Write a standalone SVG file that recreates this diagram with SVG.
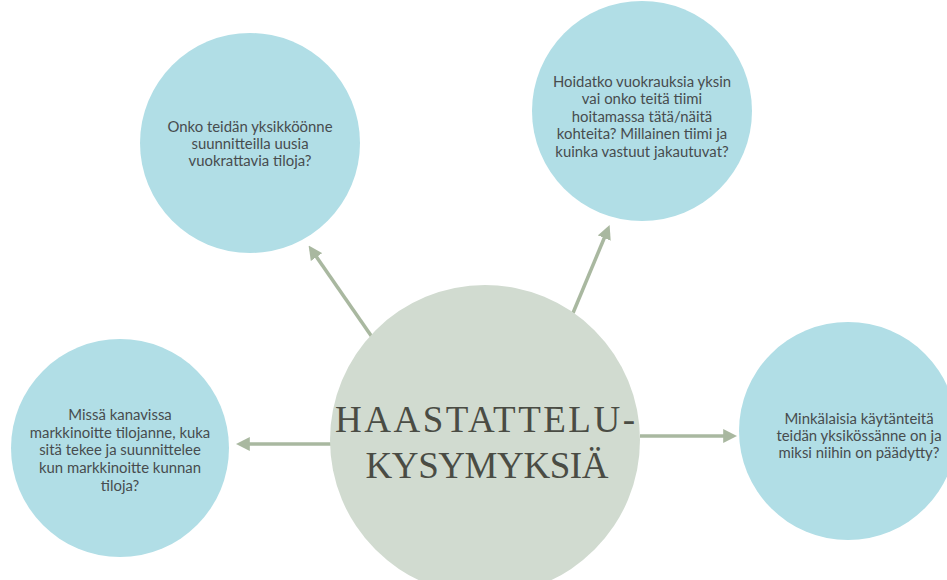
<svg xmlns="http://www.w3.org/2000/svg" width="947" height="580" viewBox="0 0 947 580">
<defs>
<style>
.q{fill:#b1dee6;}
.c{fill:#d1dbd0;}
.t{font-family:Lato,"Open Sans",sans-serif;font-size:14.9px;fill:#474c4e;text-anchor:middle;}
.h{font-family:"Liberation Serif","Times New Roman",serif;font-size:37px;fill:#4a4c44;text-anchor:middle;}
.a{stroke:#a9b8a0;stroke-width:3.5;fill:none;marker-end:url(#ah);}
</style>
<marker id="ah" viewBox="0 0 10 10" refX="7" refY="5" markerWidth="4" markerHeight="4" orient="auto" markerUnits="strokeWidth">
<path d="M0,0 L10,5 L0,10 Z" fill="#a9b8a0"/>
</marker>
</defs>
<rect width="947" height="580" fill="#ffffff"/>
<g id="connectors">
<line class="a" x1="372" y1="337" x2="311" y2="249"/>
<line class="a" x1="573" y1="313" x2="608" y2="229"/>
<line class="a" x1="331" y1="444" x2="240" y2="444"/>
<line class="a" x1="640" y1="436" x2="733" y2="436"/>
</g>
<g id="node-top-left">
<circle class="q" cx="250" cy="143" r="110"/>
<text class="t" x="250" y="132">Onko teidän yksikköönne</text>
<text class="t" x="250" y="149">suunnitteilla uusia</text>
<text class="t" x="250" y="166">vuokrattavia tiloja?</text>
</g>
<g id="node-top-right">
<circle class="q" cx="642" cy="111" r="110"/>
<text class="t" x="642" y="87">Hoidatko vuokrauksia yksin</text>
<text class="t" x="642" y="104">vai onko teitä tiimi</text>
<text class="t" x="642" y="122">hoitamassa tätä/näitä</text>
<text class="t" x="642" y="139">kohteita? Millainen tiimi ja</text>
<text class="t" x="642" y="157">kuinka vastuut jakautuvat?</text>
</g>
<g id="node-left">
<circle class="q" cx="120" cy="448" r="109"/>
<text class="t" x="120" y="420">Missä kanavissa</text>
<text class="t" x="120" y="438">markkinoitte tilojanne, kuka</text>
<text class="t" x="120" y="455">sitä tekee ja suunnittelee</text>
<text class="t" x="120" y="473">kun markkinoitte kunnan</text>
<text class="t" x="120" y="491">tiloja?</text>
</g>
<g id="node-right">
<circle class="q" cx="848" cy="431" r="109"/>
<text class="t" x="859" y="424">Minkälaisia käytänteitä</text>
<text class="t" x="859" y="441">teidän yksikössänne on ja</text>
<text class="t" x="859" y="458">miksi niihin on päädytty?</text>
</g>
<g id="node-center">
<circle class="c" cx="485" cy="440" r="155"/>
<text class="h" x="485" y="432" textLength="300" lengthAdjust="spacing">HAASTATTELU-</text>
<text class="h" x="487" y="478" textLength="243" lengthAdjust="spacing">KYSYMYKSIÄ</text>
</g>
</svg>
